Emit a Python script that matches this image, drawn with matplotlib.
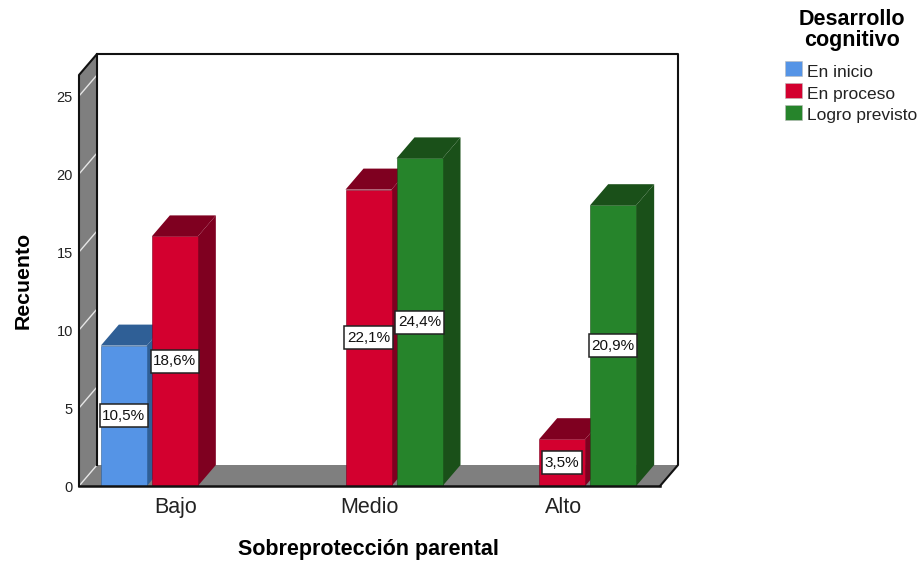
#!/usr/bin/env python3
import numpy as np
import matplotlib
matplotlib.use("Agg")
import matplotlib.pyplot as plt
from matplotlib.patches import Patch, Rectangle

# -----------------------------
# Data
# -----------------------------
groups = ["Bajo", "Medio", "Alto"]
series = ["En inicio", "En proceso", "Logro previsto"]
en_inicio = [9, 0, 0]
en_proceso = [16, 19, 3]
logro = [0, 21, 18]
pct_inicio = ["10,5%", "", ""]
pct_proceso = ["18,6%", "22,1%", "3,5%"]
pct_logro = ["", "24,4%", "20,9%"]
y_ticks = [0, 5, 10, 15, 20, 25]

# front, darker faces
colors = {
    "En inicio": ("#5594E6", "#2F5F96"),
    "En proceso": ("#D3002F", "#7F0020"),
    "Logro previsto": ("#26842B", "#1A5019"),
}
WALL = "#7F7F7F"

plt.rcParams["font.family"] = ["Liberation Sans", "DejaVu Sans"]

W, H = 922, 565
fig = plt.figure(figsize=(W / 100, H / 100), dpi=100)

# front plane of the box: x 79..660 px, y 486..75 px
ax = fig.add_axes([79 / W, 1 - 486 / H, 581 / W, 411 / H])
ax.set_xlim(0, 3)
ax.set_ylim(0, 411 / 15.6)
ax.patch.set_visible(False)
for s in ax.spines.values():
    s.set_visible(False)

# depth of the 3d box, in data units
px = 3 / 581
py = 1 / 15.6
dx = 18 * px
dy = 21 * py
ymax = ax.get_ylim()[1]
bar_w = 46 * px

# -----------------------------
# Walls
# -----------------------------
ax.fill([0, dx, dx, 0], [0, dy, ymax + dy, ymax], color=WALL, lw=0, clip_on=False, zorder=1)
ax.fill([0, dx, 3 + dx, 3], [0, dy, dy, 0], color=WALL, lw=0, clip_on=False, zorder=1)
for t in y_ticks:
    ax.plot([0, dx], [t, t + dy], color="#E6E6E6", lw=1.0, clip_on=False, zorder=2)

line = dict(color="#111111", lw=1.5, clip_on=False, zorder=2, solid_capstyle="projecting")
ax.plot([0, 0, dx, 3 + dx, 3 + dx, 3], [0, ymax, ymax + dy, ymax + dy, dy, 0], **line)
ax.plot([dx, dx], [dy, ymax + dy], **line)
ax.plot([0, 3], [0, 0], color="#111111", lw=1.8, clip_on=False, zorder=8)

# -----------------------------
# Bars
# -----------------------------
x = np.arange(3) + 0.5
offsets = {"En inicio": -75 * px, "En proceso": -24 * px, "Logro previsto": 27 * px}
all_vals = {"En inicio": en_inicio, "En proceso": en_proceso, "Logro previsto": logro}
all_pct = {"En inicio": pct_inicio, "En proceso": pct_proceso, "Logro previsto": pct_logro}

for name in series:
    front, dark = colors[name]
    for i, v in enumerate(all_vals[name]):
        if v == 0:
            continue
        x0 = x[i] + offsets[name]
        x1 = x0 + bar_w
        ax.fill([x1, x1 + dx, x1 + dx, x1], [0, dy, v + dy, v], color=dark, lw=0, clip_on=False, zorder=3)
        ax.fill([x0, x0 + dx, x1 + dx, x1], [v, v + dy, v + dy, v], color=dark, lw=0, clip_on=False, zorder=3)
        ax.bar(x0, v, width=bar_w, align="edge", color=front, edgecolor=dark, lw=0.4, zorder=3, clip_on=False)

# labels sit on top of all bars, the box is sized from the text width
renderer = fig.canvas.get_renderer()
for name in series:
    for i, v in enumerate(all_vals[name]):
        if v == 0:
            continue
        xc = x[i] + offsets[name] + bar_w / 2
        txt = ax.text(xc, v / 2, all_pct[name][i], ha="center", va="center", fontsize=11, color="#111111", zorder=10)
        box_w = (txt.get_window_extent(renderer).width + 5) * px
        box_h = 23 * py
        ax.add_patch(Rectangle((xc - box_w / 2, v / 2 - box_h / 2), box_w, box_h, fc="white", ec="#222222",
                               lw=1.1, zorder=9, clip_on=False))

# -----------------------------
# Axes / text
# -----------------------------
ax.set_yticks(y_ticks)
ax.set_yticklabels([str(t) for t in y_ticks], fontsize=10.5, color="#222222")
ax.tick_params(axis="y", length=0, pad=4.5)
ax.set_xticks(x)
ax.set_xticklabels(groups, fontsize=15.5, color="#222222")
ax.tick_params(axis="x", length=0, pad=8)

fig.text(23 / W, 1 - 280 / H, "Recuento", rotation=90, ha="center", va="center", fontsize=15.3, fontweight="bold")
fig.text(368 / W, 1 - 549 / H, "Sobreprotección parental", ha="center", va="center", fontsize=15.5, fontweight="bold")

# -----------------------------
# Legend
# -----------------------------
handles = [Patch(facecolor=colors[n][0], edgecolor="#BBBBBB", lw=0.4) for n in series]
fig.text(852 / W, 1 - 30 / H, "Desarrollo\ncognitivo", ha="center", va="center", fontsize=15.5, fontweight="bold", linespacing=0.95)
leg = fig.legend(handles, series, loc="upper left", bbox_to_anchor=(780 / W, 1 - 56 / H), frameon=False,
                 fontsize=12.5, labelcolor="#222222", handlelength=0.98, handleheight=0.95,
                 handletextpad=0.25, labelspacing=0.3, borderpad=0.3, borderaxespad=0)
# legend text sits a little below the middle of its swatch
for t in leg.get_texts():
    t.set_y(-2.5)

plt.savefig("out.png", dpi=100)
